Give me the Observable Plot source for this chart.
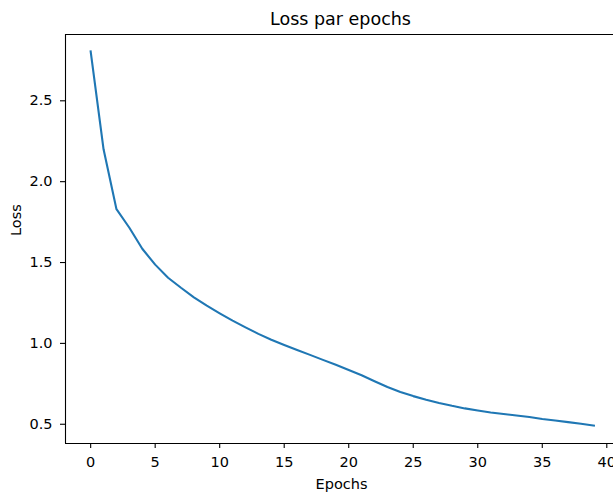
<!DOCTYPE html>
<html>
<head>
<meta charset="utf-8">
<script src="https://cdn.jsdelivr.net/npm/d3@7"></script>
<script src="https://cdn.jsdelivr.net/npm/@observablehq/plot@0.6"></script>
<style>
  html, body { margin: 0; padding: 0; background: #fff; overflow: hidden; }
  svg { display: block; font-family: "DejaVu Sans", sans-serif; }
</style>
</head>
<body>
<div id="chart"></div>
<script>
const epochs = [0,1,2,3,4,5,6,7,8,9,10,11,12,13,14,15,16,17,18,19,20,21,22,23,24,25,26,27,28,29,30,31,32,33,34,35,36,37,38,39];
const loss = [2.805,2.20,1.83,1.715,1.585,1.487,1.406,1.344,1.285,1.233,1.186,1.141,1.099,1.059,1.023,0.99,0.959,0.929,0.898,0.868,0.836,0.803,0.766,0.73,0.699,0.674,0.652,0.632,0.614,0.598,0.585,0.573,0.563,0.554,0.545,0.533,0.523,0.513,0.503,0.492];
const xTicks = [0,5,10,15,20,25,30,35,40];
const yTicks = [0.5,1.0,1.5,2.0,2.5];
const title = "Loss par epochs";
const xLabel = "Epochs";
const yLabel = "Loss";

const data = epochs.map((e, i) => ({epoch: e, loss: loss[i]}));
const xDom = [-1.95, 40.52];
const yDom = [0.381, 2.91];

const chart = Plot.plot({
  width: 613,
  height: 493,
  marginLeft: 65,
  marginRight: 0,
  marginTop: 34,
  marginBottom: 50,
  style: {fontFamily: "DejaVu Sans, sans-serif", fontSize: "14.5px", color: "#000", background: "#fff"},
  x: {domain: xDom, axis: null},
  y: {domain: yDom, axis: null},
  marks: [
    Plot.line(data, {x: "epoch", y: "loss", stroke: "#1f77b4", strokeWidth: 2.1, strokeLinejoin: "round", strokeLinecap: "square"}),
    Plot.axisX(xTicks, {tickSize: 5, tickPadding: 8, fontSize: 14.5, stroke: "#000", strokeWidth: 1.1, fill: "#000", label: null, tickFormat: d => String(d)}),
    Plot.axisY(yTicks, {tickSize: 5, tickPadding: 8, fontSize: 14.5, stroke: "#000", strokeWidth: 1.1, fill: "#000", label: null, tickFormat: d => d.toFixed(1)}),
    Plot.ruleX([xDom[0]], {stroke: "#000", strokeWidth: 1.1}),
    Plot.ruleY([yDom[0], yDom[1]], {stroke: "#000", strokeWidth: 1.1}),
    Plot.text([title], {frameAnchor: "top", lineAnchor: "middle", dx: 1, dy: -15.6, fontSize: 17.5, fill: "#000"}),
    Plot.text([xLabel], {frameAnchor: "bottom", lineAnchor: "middle", dx: 2, dy: 40.4, fontSize: 14.5, fill: "#000"}),
    Plot.text([yLabel], {frameAnchor: "left", lineAnchor: "middle", dx: -49.6, dy: -3, rotate: -90, fontSize: 14.5, fill: "#000"})
  ]
});
document.getElementById("chart").appendChild(chart);
</script>
</body>
</html>
